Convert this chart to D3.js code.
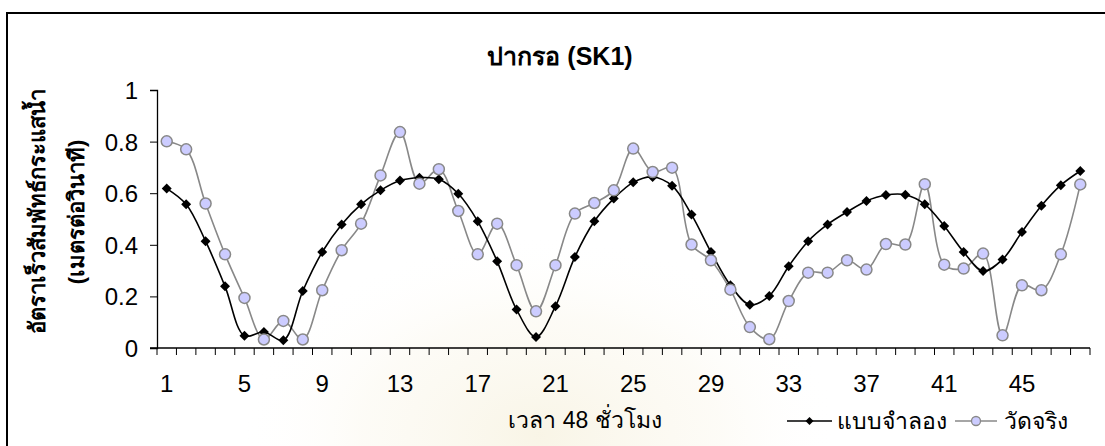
<!DOCTYPE html>
<html>
<head>
<meta charset="utf-8">
<script src="https://cdn.jsdelivr.net/npm/d3@7"></script>
<style>
  body { margin: 0; background: #fff; }
  svg { display: block; font-family: Arial, "Liberation Sans", sans-serif; }
</style>
</head>
<body>
<svg id="chart" width="1105" height="446"></svg>
<script>
// hours 1..48
var hours = d3.range(1, 49);
var xTicks = [1, 5, 9, 13, 17, 21, 25, 29, 33, 37, 41, 45];
var yTicks = [0, 0.2, 0.4, 0.6, 0.8, 1];

// แบบจำลอง (model)
var modelVals = [0.618, 0.557, 0.414, 0.239, 0.047, 0.062, 0.030, 0.221, 0.372, 0.479, 0.557, 0.611,
  0.649, 0.660, 0.654, 0.598, 0.491, 0.336, 0.149, 0.043, 0.162, 0.353, 0.491, 0.579,
  0.642, 0.663, 0.629, 0.517, 0.372, 0.243, 0.168, 0.202, 0.317, 0.414, 0.479, 0.527,
  0.570, 0.593, 0.594, 0.557, 0.473, 0.372, 0.298, 0.343, 0.450, 0.551, 0.631, 0.686];

// วัดจริง (measured)
var obsVals = [0.801, 0.770, 0.560, 0.363, 0.194, 0.033, 0.105, 0.033, 0.224, 0.379, 0.482, 0.669,
  0.837, 0.637, 0.693, 0.531, 0.363, 0.482, 0.321, 0.142, 0.321, 0.521, 0.562, 0.611,
  0.773, 0.682, 0.699, 0.401, 0.340, 0.226, 0.081, 0.034, 0.182, 0.292, 0.292, 0.340,
  0.304, 0.403, 0.401, 0.635, 0.323, 0.308, 0.366, 0.049, 0.243, 0.224, 0.363, 0.634];

var svg = d3.select("#chart");

// faint watermark glow behind the plot
var defs = svg.append("defs");
var grad = defs.append("radialGradient").attr("id", "wm");
grad.append("stop").attr("offset", "0%").attr("stop-color", "#f7f2e0").attr("stop-opacity", 0.8);
grad.append("stop").attr("offset", "60%").attr("stop-color", "#fbf8ee").attr("stop-opacity", 0.5);
grad.append("stop").attr("offset", "100%").attr("stop-color", "#fff").attr("stop-opacity", 0);
svg.append("ellipse")
  .attr("cx", 540).attr("cy", 435)
  .attr("rx", 300).attr("ry", 200)
  .attr("fill", "url(#wm)");

// outer frame (right and bottom run off the picture)
svg.append("rect")
  .attr("x", 7).attr("y", 13)
  .attr("width", 1110).attr("height", 450)
  .attr("fill", "none")
  .attr("stroke", "#000")
  .attr("stroke-width", 2);

var x = d3.scaleBand()
  .domain(hours)
  .range([157, 1090]);

var y = d3.scaleLinear()
  .domain([0, 1])
  .range([348, 90]);

var cx = function(h) { return x(h) + x.bandwidth() / 2; };

// title
svg.append("text")
  .attr("x", 560).attr("y", 65)
  .attr("text-anchor", "middle")
  .style("font-size", "25px")
  .style("font-weight", "bold")
  .text("ปากรอ (SK1)");

// y axis
var yAxis = d3.axisLeft(y)
  .tickValues(yTicks)
  .tickSize(7)
  .tickFormat(function(d) { return d; });

var gy = svg.append("g")
  .attr("transform", "translate(157,0)")
  .call(yAxis);
gy.select(".domain").attr("stroke", "#000").attr("stroke-width", 1.3);
gy.selectAll(".tick line").attr("stroke", "#000");
gy.selectAll(".tick text")
  .attr("x", -19)
  .attr("dy", "0.35em")
  .style("font-size", "24px")
  .style("font-family", "Arial, 'Liberation Sans', sans-serif")
  .attr("fill", "#000");

// x axis
var xAxis = d3.axisBottom(x)
  .tickValues(xTicks)
  .tickSize(0)
  .tickFormat(function(d) { return d; });

var gx = svg.append("g")
  .attr("transform", "translate(0,348)")
  .call(xAxis);
gx.select(".domain").remove();
gx.selectAll(".tick text")
  .attr("y", 27)
  .style("font-size", "24px")
  .style("font-family", "Arial, 'Liberation Sans', sans-serif")
  .attr("fill", "#000");

svg.append("line")
  .attr("x1", 150).attr("x2", 1090)
  .attr("y1", 348).attr("y2", 348)
  .attr("stroke", "#000").attr("stroke-width", 1.3);

// category tick marks between hours
svg.append("g").selectAll("line")
  .data(hours.concat([49]))
  .enter()
  .append("line")
    .attr("x1", function(h) { return h === 49 ? 1090 : x(h); })
    .attr("x2", function(h) { return h === 49 ? 1090 : x(h); })
    .attr("y1", 348).attr("y2", 355)
    .attr("stroke", "#000");

// axis titles
svg.append("text")
  .attr("transform", "translate(45,211)rotate(-90)")
  .attr("text-anchor", "middle")
  .style("font-size", "22px")
  .style("font-weight", "bold")
  .text("อัตราเร็วสัมพัทธ์กระแสน้ำ");

svg.append("text")
  .attr("transform", "translate(84,212)rotate(-90)")
  .attr("text-anchor", "middle")
  .style("font-size", "22px")
  .style("font-weight", "bold")
  .text("(เมตรต่อวินาที)");

svg.append("text")
  .attr("x", 585).attr("y", 428)
  .attr("text-anchor", "middle")
  .style("font-size", "23px")
  .text("เวลา 48 ชั่วโมง");

// lines
var line = d3.line()
  .x(function(d, i) { return cx(hours[i]); })
  .y(function(d) { return y(d); })
  .curve(d3.curveCatmullRom.alpha(0.5));

svg.append("path")
  .datum(obsVals)
  .attr("d", line)
  .attr("fill", "none")
  .attr("stroke", "#888")
  .attr("stroke-width", 1.6);

svg.append("path")
  .datum(modelVals)
  .attr("d", line)
  .attr("fill", "none")
  .attr("stroke", "#000")
  .attr("stroke-width", 1.6);

svg.append("g").selectAll("path")
  .data(modelVals)
  .enter()
  .append("path")
    .attr("d", d3.symbol().type(d3.symbolSquare).size(50))
    .attr("transform", function(d, i) {
      return "translate(" + cx(hours[i]) + "," + y(d) + ")rotate(45)";
    })
    .attr("fill", "#000");

svg.append("g").selectAll("circle")
  .data(obsVals)
  .enter()
  .append("circle")
    .attr("cx", function(d, i) { return cx(hours[i]); })
    .attr("cy", function(d) { return y(d); })
    .attr("r", 5.5)
    .attr("fill", "#ccccff")
    .attr("stroke", "#888")
    .attr("stroke-width", 1.5);

// legend
var lg = svg.append("g").attr("transform", "translate(0,421)");

lg.append("line")
  .attr("x1", 787).attr("x2", 832)
  .attr("stroke", "#000").attr("stroke-width", 1.6);
lg.append("path")
  .attr("d", d3.symbol().type(d3.symbolSquare).size(32))
  .attr("transform", "translate(809.5,0)rotate(45)")
  .attr("fill", "#000");
lg.append("text")
  .attr("x", 837).attr("y", 8)
  .style("font-size", "23px")
  .text("แบบจำลอง");

lg.append("line")
  .attr("x1", 955).attr("x2", 997)
  .attr("stroke", "#888").attr("stroke-width", 1.6);
lg.append("circle")
  .attr("cx", 976).attr("cy", 0).attr("r", 4.5)
  .attr("fill", "#ccccff")
  .attr("stroke", "#888")
  .attr("stroke-width", 1.3);
lg.append("text")
  .attr("x", 1004).attr("y", 8)
  .style("font-size", "23px")
  .text("วัดจริง");
</script>
</body>
</html>
